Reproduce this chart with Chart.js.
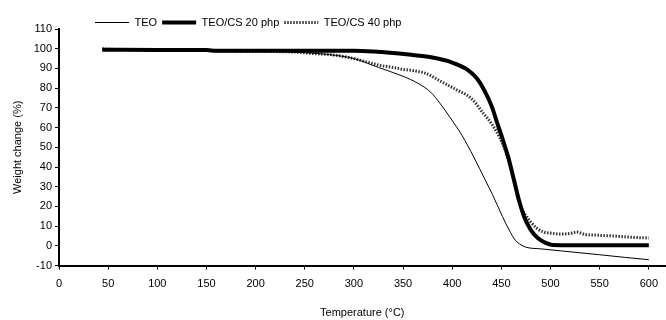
<!DOCTYPE html>
<html>
<head>
<meta charset="utf-8">
<script src="https://cdn.jsdelivr.net/npm/chart.js@4/dist/chart.umd.min.js"></script>
<style>
html, body { margin: 0; padding: 0; background: #fff; }
</style>
</head>
<body>
<canvas id="chart" width="666" height="320"></canvas>
<script>
// series
var seriesNames = ['TEO', 'TEO/CS 20 php', 'TEO/CS 40 php'];

var tempTEO = [44, 100, 150, 200, 250, 275, 300, 325, 350, 365, 378, 388, 398, 410, 422, 434, 441, 451, 458, 464, 470, 476, 490, 510, 530, 550, 575, 600];
var weightTEO = [99.5, 99.4, 99.3, 99, 98, 97, 95, 90.5, 86, 82.5, 78, 72, 65, 56, 45, 33, 26, 15, 8, 3, 0.5, -0.8, -1.5, -2.5, -3.5, -4.5, -5.8, -7];

var temp20 = [44, 100, 150, 160, 250, 300, 320, 340, 360, 380, 400, 415, 425, 432, 440, 446, 452, 457, 463, 468, 473, 480, 487, 495, 502, 550, 600];
var weight20 = [99.5, 99.4, 99.3, 99, 99, 99, 98.6, 97.8, 96.8, 95.5, 93, 89.5, 85, 79.5, 71, 62, 53, 45, 33, 23, 15, 8, 4, 1.5, 0.5, 0.3, 0.3];

var temp40 = [44, 60, 100, 150, 160, 200, 240, 260, 276, 290, 300, 315, 327, 340, 350, 362, 373, 390, 405, 419, 432, 440, 451, 461, 468, 474, 480, 486, 493, 500, 510, 520, 527, 535, 545, 555, 565, 575, 585, 600];
var weight40 = [100, 99.6, 99.5, 99.4, 98.8, 98.6, 98.3, 97.5, 97, 96, 95, 93, 91.5, 90.5, 89.5, 88.8, 87.5, 83, 79, 75, 67, 62, 52, 37, 22, 16, 12, 9, 7, 6.5, 6, 6.3, 7, 5.8, 5.5, 5.2, 5, 4.6, 4.3, 4];

var xTicks = [0, 50, 100, 150, 200, 250, 300, 350, 400, 450, 500, 550, 600];
var yTicks = [-10, 0, 10, 20, 30, 40, 50, 60, 70, 80, 90, 100, 110];

var dash40 = [1.5, 1.5];

function toPoints(xs, ys) {
    var pts = [];
    for (var i = 0; i < xs.length; i++) {
        pts.push({ x: xs[i], y: ys[i] });
    }
    return pts;
}

// legend sits left of centre and a bit lower in the original
var legendShift = {
    id: 'legendShift',
    afterLayout: function (chart) {
        chart.legend.left = 95 - chart.legend.options.labels.padding;
        chart.legend.top += 9;
    }
};

Chart.defaults.font.family = "'Liberation Sans', Arial, sans-serif";
Chart.defaults.font.size = 11;
Chart.defaults.color = '#000';

var ctx = document.getElementById('chart');
var chart = new Chart(ctx, {
    type: 'line',
    data: {
        datasets: [
            {
                label: seriesNames[0],
                data: toPoints(tempTEO, weightTEO),
                borderColor: '#000',
                borderWidth: 1,
                pointRadius: 0,
                cubicInterpolationMode: 'monotone'
            },
            {
                label: seriesNames[1],
                data: toPoints(temp20, weight20),
                borderColor: '#000',
                borderWidth: 4,
                pointRadius: 0,
                cubicInterpolationMode: 'monotone'
            },
            {
                label: seriesNames[2],
                data: toPoints(temp40, weight40),
                borderColor: '#333',
                borderWidth: 3,
                borderDash: dash40,
                pointRadius: 0,
                cubicInterpolationMode: 'monotone'
            }
        ]
    },
    options: {
        responsive: false,
        animation: false,
        layout: {
            padding: { top: 3, left: 0, right: 0, bottom: 0 }
        },
        plugins: {
            legend: {
                position: 'top',
                align: 'start',
                labels: {
                    usePointStyle: true,
                    pointStyle: 'line',
                    pointStyleWidth: 34,
                    boxWidth: 34,
                    boxHeight: 11,
                    padding: 5,
                    font: { size: 11 },
                    generateLabels: function (chart) {
                        var items = Chart.defaults.plugins.legend.labels.generateLabels(chart);
                        items.forEach(function (it) {
                            var ds = chart.data.datasets[it.datasetIndex];
                            it.lineDash = ds.borderDash || [];
                        });
                        return items;
                    }
                }
            },
            tooltip: { enabled: false }
        },
        scales: {
            x: {
                type: 'linear',
                min: 0,
                max: 617,
                afterBuildTicks: function (scale) {
                    scale.ticks = xTicks.map(function (v) { return { value: v }; });
                },
                border: { color: '#000', width: 2 },
                grid: { drawOnChartArea: false, color: '#000', tickLength: 4 },
                ticks: { padding: 8, maxRotation: 0 },
                title: {
                    display: true,
                    text: 'Temperature (\u00B0C)',
                    padding: { top: 8, bottom: 0 }
                }
            },
            y: {
                min: -10,
                max: 110,
                afterBuildTicks: function (scale) {
                    scale.ticks = yTicks.map(function (v) { return { value: v }; });
                },
                afterFit: function (scale) {
                    scale.width = 59;
                },
                border: { color: '#000', width: 2 },
                grid: { drawOnChartArea: false, color: '#000', tickLength: 4 },
                ticks: { padding: 3 },
                title: {
                    display: true,
                    text: 'Weight change (%)',
                    padding: { top: 11, bottom: 0 }
                }
            }
        }
    },
    plugins: [legendShift]
});
</script>
</body>
</html>
